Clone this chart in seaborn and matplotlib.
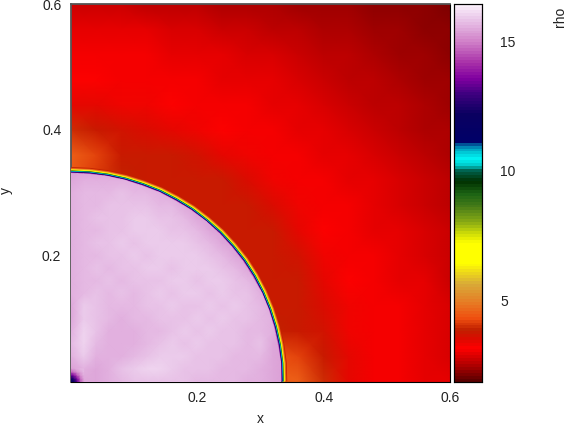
import numpy as np
import matplotlib
matplotlib.use("Agg")
import matplotlib.pyplot as plt
import seaborn as sns
from matplotlib.colors import LinearSegmentedColormap
from matplotlib.patches import Polygon
from matplotlib.transforms import Affine2D

# colour scale
scale_rho = [1.87, 2.4, 3.1, 3.45, 3.8, 4.3, 5.0, 5.6, 6.4, 7.2, 7.6, 8.0, 8.6, 9.1, 9.6, 10.0, 10.2, 10.45, 10.75, 11.0, 11.15, 12.2, 13.0, 13.6, 14.2, 15.0, 16.0, 16.43]
scale_col = ["#5c0000", "#a80000", "#ff0000", "#dc0a00", "#c02000", "#f05010", "#e48428", "#d8aa38", "#ffff00", "#ffff00", "#c8d808", "#88aa14", "#487c18", "#1c6414", "#003000", "#00604c", "#00c8c8", "#00f4f4", "#00c0d0", "#0070a8", "#000068", "#0a0060", "#400080", "#8000a0", "#a830a8", "#d080c8", "#eccdec", "#fbf0fb"]

rho_min = 1.87
rho_max = 16.43

# density outside the front, 0.04 grid, bottom row first
outer_rho = [
    [4.40, 4.40, 4.40, 4.40, 4.40, 4.40, 4.40, 4.40, 4.60, 4.60, 4.00, 3.35, 3.12, 3.02, 2.97, 2.90],
    [4.30, 4.30, 4.30, 4.30, 4.30, 4.30, 4.30, 4.30, 4.40, 4.20, 3.70, 3.38, 3.12, 3.02, 2.96, 2.88],
    [3.85, 3.85, 3.85, 3.85, 3.85, 3.85, 3.85, 3.85, 3.85, 3.78, 3.60, 3.32, 3.10, 3.02, 2.94, 2.85],
    [3.78, 3.78, 3.78, 3.78, 3.78, 3.78, 3.78, 3.78, 3.78, 3.76, 3.52, 3.26, 3.08, 3.01, 2.92, 2.81],
    [3.78, 3.78, 3.78, 3.78, 3.78, 3.78, 3.78, 3.78, 3.78, 3.72, 3.43, 3.19, 3.06, 2.99, 2.90, 2.78],
    [3.78, 3.78, 3.78, 3.78, 3.78, 3.78, 3.78, 3.78, 3.78, 3.58, 3.32, 3.10, 3.03, 2.96, 2.86, 2.74],
    [3.78, 3.78, 3.78, 3.78, 3.78, 3.78, 3.78, 3.78, 3.69, 3.42, 3.20, 3.07, 3.00, 2.92, 2.82, 2.68],
    [3.78, 3.78, 3.78, 3.78, 3.78, 3.78, 3.78, 3.72, 3.47, 3.26, 3.09, 3.03, 2.96, 2.88, 2.76, 2.63],
    [4.40, 4.10, 3.85, 3.78, 3.78, 3.78, 3.69, 3.47, 3.29, 3.11, 3.05, 2.99, 2.91, 2.81, 2.69, 2.58],
    [4.60, 4.20, 3.80, 3.76, 3.72, 3.58, 3.42, 3.26, 3.11, 3.05, 3.00, 2.93, 2.85, 2.74, 2.62, 2.52],
    [4.00, 3.70, 3.60, 3.52, 3.43, 3.32, 3.20, 3.09, 3.05, 3.00, 2.94, 2.86, 2.77, 2.65, 2.55, 2.47],
    [3.40, 3.35, 3.32, 3.26, 3.19, 3.10, 3.07, 3.03, 2.99, 2.93, 2.86, 2.77, 2.66, 2.58, 2.50, 2.41],
    [3.20, 3.18, 3.12, 3.08, 3.06, 3.03, 3.00, 2.96, 2.91, 2.85, 2.77, 2.66, 2.58, 2.50, 2.43, 2.36],
    [3.10, 3.08, 3.06, 3.03, 3.00, 2.96, 2.92, 2.88, 2.81, 2.74, 2.65, 2.58, 2.50, 2.43, 2.37, 2.30],
    [2.97, 2.96, 2.94, 2.90, 2.86, 2.82, 2.76, 2.71, 2.66, 2.60, 2.55, 2.50, 2.43, 2.37, 2.30, 2.24],
    [2.72, 2.72, 2.70, 2.66, 2.62, 2.58, 2.54, 2.50, 2.46, 2.43, 2.40, 2.36, 2.32, 2.28, 2.24, 2.18],
]

# density behind the front, 0.02 grid, bottom row first
inner_rho = [
    [15.3, 15.5, 15.5, 15.6, 15.7, 15.8, 15.8, 15.8, 15.8, 15.8, 15.7, 15.7, 15.7, 15.7, 15.6, 15.6, 15.5, 15.3],
    [15.4, 15.6, 15.5, 15.6, 15.8, 15.9, 16.0, 16.0, 15.9, 15.8, 15.8, 15.8, 15.7, 15.7, 15.7, 15.6, 15.5, 15.3],
    [15.6, 15.9, 15.6, 15.6, 15.6, 15.7, 15.8, 15.9, 15.9, 15.9, 15.8, 15.8, 15.8, 15.7, 15.7, 15.7, 15.5, 15.3],
    [15.7, 16.0, 15.7, 15.6, 15.6, 15.6, 15.7, 15.8, 15.9, 15.8, 15.9, 15.8, 15.8, 15.8, 15.7, 15.8, 15.5, 15.4],
    [15.6, 16.0, 15.8, 15.6, 15.6, 15.6, 15.7, 15.7, 15.8, 15.9, 15.8, 15.9, 15.8, 15.8, 15.7, 15.7, 15.6, 15.4],
    [15.5, 15.9, 15.8, 15.7, 15.6, 15.7, 15.7, 15.8, 15.8, 15.8, 15.9, 15.8, 15.9, 15.8, 15.8, 15.7, 15.6, 15.4],
    [15.5, 15.9, 15.8, 15.7, 15.7, 15.7, 15.8, 15.8, 15.9, 15.8, 15.8, 15.9, 15.8, 15.9, 15.8, 15.7, 15.5, 15.4],
    [15.6, 15.7, 15.8, 15.7, 15.8, 15.7, 15.8, 15.9, 15.8, 15.9, 15.9, 15.8, 15.9, 15.8, 15.8, 15.6, 15.4, 15.4],
    [15.6, 15.7, 15.7, 15.8, 15.7, 15.8, 15.8, 15.8, 15.9, 15.9, 15.8, 15.9, 15.9, 15.8, 15.7, 15.5, 15.4, 15.4],
    [15.6, 15.7, 15.8, 15.7, 15.8, 15.8, 15.9, 15.9, 15.8, 15.9, 15.9, 15.9, 15.8, 15.7, 15.5, 15.4, 15.4, 15.4],
    [15.6, 15.7, 15.7, 15.8, 15.8, 15.9, 15.8, 15.9, 15.9, 15.9, 15.9, 15.8, 15.7, 15.5, 15.4, 15.4, 15.4, 15.4],
    [15.6, 15.7, 15.8, 15.8, 15.9, 15.8, 15.9, 15.9, 15.9, 15.9, 15.8, 15.7, 15.5, 15.4, 15.4, 15.4, 15.4, 15.4],
    [15.6, 15.7, 15.7, 15.8, 15.8, 15.9, 15.9, 15.9, 15.8, 15.8, 15.7, 15.5, 15.4, 15.4, 15.4, 15.4, 15.4, 15.4],
    [15.6, 15.7, 15.8, 15.8, 15.8, 15.9, 15.9, 15.8, 15.8, 15.7, 15.5, 15.4, 15.4, 15.4, 15.4, 15.4, 15.4, 15.4],
    [15.6, 15.7, 15.7, 15.8, 15.8, 15.8, 15.8, 15.7, 15.7, 15.5, 15.4, 15.4, 15.4, 15.4, 15.4, 15.4, 15.4, 15.4],
    [15.6, 15.7, 15.7, 15.7, 15.8, 15.7, 15.7, 15.6, 15.5, 15.4, 15.4, 15.4, 15.4, 15.4, 15.4, 15.4, 15.4, 15.4],
    [15.5, 15.6, 15.6, 15.6, 15.6, 15.6, 15.5, 15.4, 15.4, 15.4, 15.4, 15.4, 15.4, 15.4, 15.4, 15.4, 15.4, 15.4],
    [15.3, 15.3, 15.3, 15.3, 15.3, 15.3, 15.3, 15.3, 15.3, 15.3, 15.3, 15.3, 15.3, 15.3, 15.3, 15.3, 15.3, 15.3],
]

# dark blob at the origin, 0.005 grid
corner_rho = [
    [11.5, 12.2, 13.3, 14.5, 15.3],
    [12.2, 12.8, 13.8, 14.8, 15.5],
    [13.3, 13.8, 14.5, 15.1, 15.6],
    [14.5, 14.8, 15.1, 15.4, 15.7],
    [15.3, 15.5, 15.6, 15.7, 15.7],
]

# front position, inner edge of the coloured rim
front_angle = [0, 5, 10, 15, 20, 25, 30, 35, 40, 45, 50, 55, 60, 65, 70, 75, 80, 85, 90]
front_radius = [0.3325, 0.333, 0.333, 0.333, 0.333, 0.333, 0.333, 0.333, 0.3325, 0.3325, 0.332, 0.332, 0.3315, 0.3315, 0.331, 0.331, 0.331, 0.331, 0.331]
# densities crossing the rim, outermost first
rim_rho = [3.9, 4.3, 5.0, 6.0, 7.0, 9.4, 10.5, 11.8, 13.3, 14.8]

x_major = [0.2, 0.4, 0.6]
x_minor = [0.1, 0.3, 0.5]
bar_major = [5, 10, 15]
bar_minor = [2, 3, 4, 6, 7, 8, 9, 11, 12, 13, 14, 16]

sns.set_style("white")
plt.rcParams["font.family"] = ["Liberation Sans", "DejaVu Sans"]
plt.rcParams["font.size"] = 10
plt.rcParams["text.color"] = "#222222"

W, H = 567, 426
fig = plt.figure(figsize=(W / 100, H / 100), dpi=100)
ax = fig.add_axes([71 / W, (H - 381.5) / H, 379 / W, 377.5 / H])
cax = fig.add_axes([453.5 / W, (H - 381.5) / H, 28.5 / W, 377.5 / H])

stops = [(r - rho_min) / (rho_max - rho_min) for r in scale_rho]
cmap = LinearSegmentedColormap.from_list("rho", list(zip(stops, scale_col)), N=128)

# physical x, y -> cell index of the outer table
DX = 0.04
phys = Affine2D().scale(1 / DX) + ax.transData

sns.heatmap(np.array(outer_rho), ax=ax, cbar_ax=cax, cmap=cmap, vmin=rho_min, vmax=rho_max,
            shading="gouraud", xticklabels=False, yticklabels=False)

angle = np.radians(front_angle)
front_x = np.array(front_radius) * np.cos(angle)
front_y = np.array(front_radius) * np.sin(angle)

norm = plt.Normalize(rho_min, rho_max)
rim_px = [6.2, 5.4, 4.8, 4.2, 3.6, 2.8, 2.3, 1.7, 1.1, 0.5]
for level, px in zip(rim_rho, rim_px):
    ax.plot(front_x, front_y, color=cmap(norm(level)), lw=2 * px * 0.72, transform=phys,
            solid_capstyle="butt", zorder=3)

# the shocked region sits on top and hides the inner half of the rim strokes
sns.heatmap(np.array(inner_rho), ax=ax, cbar=False, cmap=cmap, vmin=rho_min, vmax=rho_max,
            shading="gouraud", xticklabels=False, yticklabels=False,
            transform=Affine2D().scale(0.02) + phys, zorder=4)
inner_mesh = ax.collections[-1]
outline = list(zip(front_x, front_y)) + [(0, 0)]
inner_mesh.set_clip_path(Polygon(outline, closed=True, transform=phys))

sns.heatmap(np.array(corner_rho), ax=ax, cbar=False, cmap=cmap, vmin=rho_min, vmax=rho_max,
            shading="gouraud", xticklabels=False, yticklabels=False,
            transform=Affine2D().scale(0.005) + phys, zorder=5)

ax.set_xlim(0, 0.6 / DX)
ax.set_ylim(0, 0.6 / DX)
ax.set_aspect("auto")

ax.set_xticks([v / DX for v in x_major])
ax.set_xticklabels(["%.1f" % v for v in x_major])
ax.set_yticks([v / DX for v in x_major])
ax.set_yticklabels(["%.1f" % v for v in x_major])
ax.set_xticks([v / DX for v in x_minor], minor=True)
ax.set_yticks([v / DX for v in x_minor], minor=True)
ax.tick_params(which="major", direction="in", length=5, width=0.7, color="black", top=True, right=True,
               bottom=True, left=True, labelsize=10, labelcolor="#222222", pad=7, rotation=0)
ax.tick_params(which="minor", direction="in", length=2.5, width=0.7, color="black", top=True, right=True,
               bottom=True, left=True)
for name, spine in ax.spines.items():
    spine.set_visible(True)
    spine.set_color("#555555" if name in ("left", "top") else "black")
    spine.set_linewidth(1.3 if name in ("left", "top") else 0.8)

cax.set_yticks(bar_major)
cax.set_yticks(bar_minor, minor=True)
cax.set_yticklabels([str(v) for v in bar_major])
cax.tick_params(which="major", direction="in", length=5, width=0.7, color="black", left=True, right=True,
                labelsize=10, labelcolor="#222222", pad=13)
cax.tick_params(which="minor", direction="in", length=2.5, width=0.7, color="black", left=True, right=True)
for spine in cax.spines.values():
    spine.set_visible(True)
    spine.set_color("black")
    spine.set_linewidth(0.8)

fig.text(260 / W, 1 - 419 / H, "x", ha="center", va="center", fontsize=10)
fig.text(6 / W, 1 - 190 / H, "y", ha="center", va="center", rotation=90, fontsize=10)
fig.text(560 / W, 1 - 17 / H, "rho", ha="center", va="center", rotation=90, fontsize=10)

fig.savefig("out.png", dpi=100)
